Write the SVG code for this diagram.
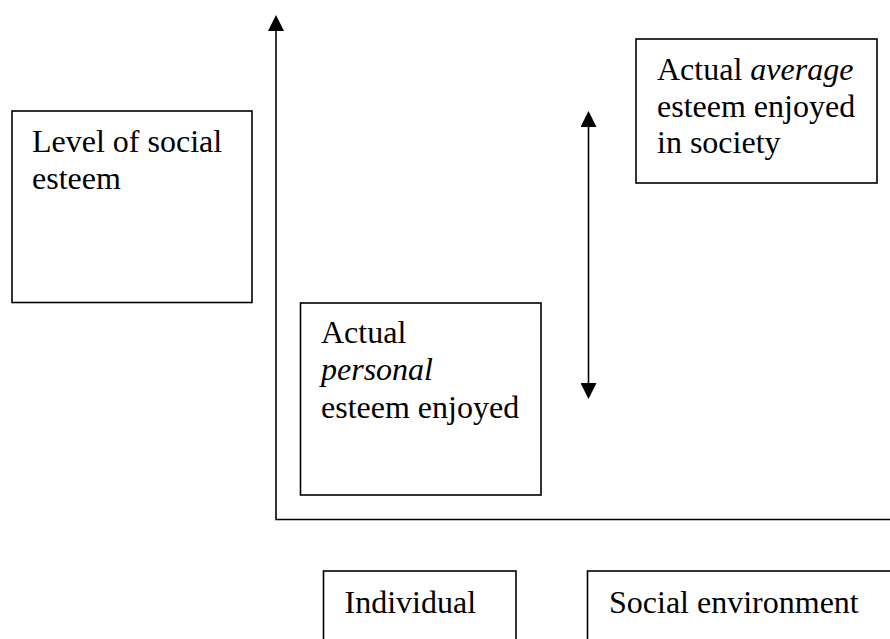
<svg xmlns="http://www.w3.org/2000/svg" width="890" height="639" viewBox="0 0 890 639">
  <style>
    .box { fill: #ffffff; stroke: #000000; stroke-width: 1.6; }
    .lbl { font-family: "Liberation Serif", "Times New Roman", serif; font-size: 32px; fill: #000000; }
    .it { font-style: italic; }
    .conn { fill: none; stroke: #000000; stroke-width: 1.6; }
  </style>
  <defs>
    <marker id="arrow" viewBox="0 0 16 16" markerUnits="userSpaceOnUse" markerWidth="16" markerHeight="16" refX="0" refY="8" orient="auto-start-reverse">
      <path d="M0,0 L16,8 L0,16 z" fill="#000000"/>
    </marker>
  </defs>

  <g id="connectors">
    <path id="axes" class="conn" d="M890,519.5 H276 V31" marker-end="url(#arrow)"/>
    <line id="gap-arrow" class="conn" x1="588.5" y1="127" x2="588.5" y2="383" marker-start="url(#arrow)" marker-end="url(#arrow)"/>
  </g>

  <g id="level-of-social-esteem">
    <rect class="box" x="12" y="111" width="240" height="191.5"/>
    <text class="lbl" x="32" y="152">Level of social</text>
    <text class="lbl" x="32" y="189">esteem</text>
  </g>

  <g id="actual-average-esteem">
    <rect class="box" x="636" y="39" width="241" height="144"/>
    <text class="lbl" x="657" y="80">Actual <tspan class="it">average</tspan></text>
    <text class="lbl" x="657" y="117">esteem enjoyed</text>
    <text class="lbl" x="657" y="153">in society</text>
  </g>

  <g id="actual-personal-esteem">
    <rect class="box" x="300.5" y="303" width="240.5" height="192"/>
    <text class="lbl" x="321" y="343">Actual</text>
    <text class="lbl it" x="321" y="380">personal</text>
    <text class="lbl" x="321" y="418">esteem enjoyed</text>
  </g>

  <g id="individual">
    <rect class="box" x="323.5" y="571" width="192.5" height="100"/>
    <text class="lbl" x="344.5" y="613">Individual</text>
  </g>

  <g id="social-environment">
    <rect class="box" x="587.5" y="571" width="330" height="100"/>
    <text class="lbl" x="609" y="613">Social environment</text>
  </g>
</svg>
